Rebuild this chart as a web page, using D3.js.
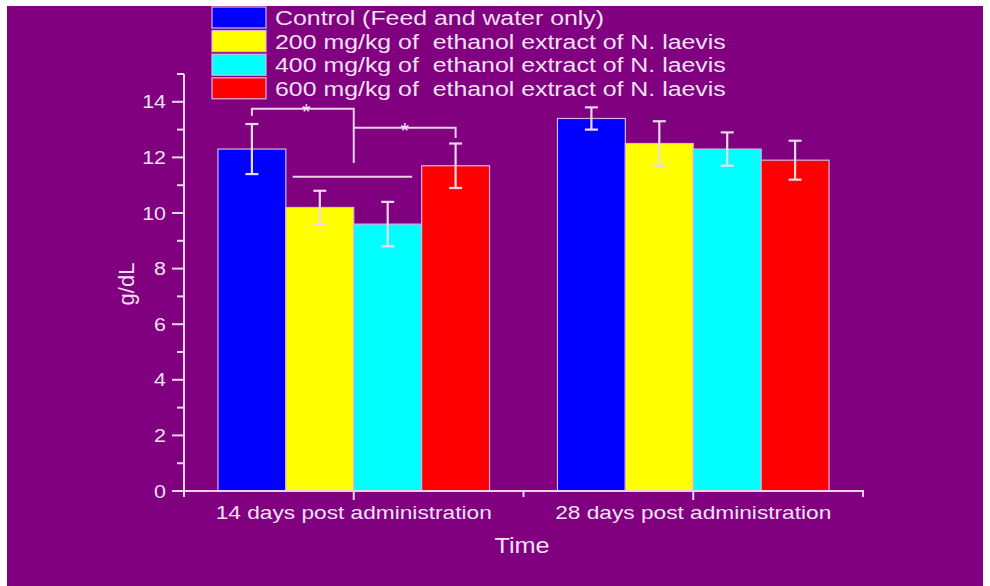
<!DOCTYPE html>
<html>
<head>
<meta charset="utf-8">
<script src="https://d3js.org/d3.v7.min.js"></script>
<style>
  body { margin: 0; background: #ffffff; }
  svg text { font-family: "Liberation Sans", Arial, sans-serif; fill: #f3e1f3; white-space: pre; }
</style>
</head>
<body>
<svg width="990" height="586"></svg>
<script>
var categories = ["14 days post administration", "28 days post administration"];
var seriesNames = [
  "Control (Feed and water only)",
  "200 mg/kg of  ethanol extract of N. laevis",
  "400 mg/kg of  ethanol extract of N. laevis",
  "600 mg/kg of  ethanol extract of N. laevis"
];
var seriesColors = ["#0000ff", "#ffff00", "#00ffff", "#ff0000"];
var controlMean = [12.3, 13.4];
var dose200Mean = [10.2, 12.5];
var dose400Mean = [9.6, 12.3];
var dose600Mean = [11.7, 11.9];
var controlErr = [0.9, 0.4];
var dose200Err = [0.6, 0.8];
var dose400Err = [0.8, 0.6];
var dose600Err = [0.8, 0.7];
var yTicks = [0, 2, 4, 6, 8, 10, 12, 14];
var yMinorTicks = [1, 3, 5, 7, 9, 11, 13, 15];

var means = [controlMean, dose200Mean, dose400Mean, dose600Mean];
var errs = [controlErr, dose200Err, dose400Err, dose600Err];

var data = [];
for (var s = 0; s < seriesNames.length; s++) {
  for (var c = 0; c < categories.length; c++) {
    data.push({cat: categories[c], series: seriesNames[s], color: seriesColors[s],
      value: means[s][c], err: errs[s][c]});
  }
}

var svg = d3.select("svg");
var lineColor = "#ecd4ec";
var sx = 1.19; // glyphs in the picture are stretched sideways

svg.append("rect")
  .attr("x", 7).attr("y", 6)
  .attr("width", 976).attr("height", 580)
  .attr("fill", "#800080");

var x0 = d3.scaleBand().domain(categories).range([184, 863]).padding(0);
var x1 = d3.scaleBand().domain(seriesNames).range([0, x0.bandwidth()])
  .paddingInner(0).paddingOuter(0.5);
var y = d3.scaleLinear().domain([0, 15]).range([491, 74]);

// bars
svg.append("g").selectAll("rect")
  .data(data)
  .enter().append("rect")
  .attr("x", function(d) { return x0(d.cat) + x1(d.series); })
  .attr("y", function(d) { return y(d.value); })
  .attr("width", x1.bandwidth())
  .attr("height", function(d) { return y(0) - y(d.value); })
  .attr("fill", function(d) { return d.color; })
  .attr("stroke", "#d9b3e3")
  .attr("stroke-width", 1.2);

// error bars
var eb = svg.append("g").attr("stroke", "#e9dbe9").attr("stroke-width", 2.2);
data.forEach(function(d) {
  var cx = x0(d.cat) + x1(d.series) + x1.bandwidth() / 2;
  eb.append("line").attr("x1", cx).attr("x2", cx)
    .attr("y1", y(d.value + d.err)).attr("y2", y(d.value - d.err));
  eb.append("line").attr("x1", cx - 6.5).attr("x2", cx + 6.5)
    .attr("y1", y(d.value + d.err)).attr("y2", y(d.value + d.err));
  eb.append("line").attr("x1", cx - 6.5).attr("x2", cx + 6.5)
    .attr("y1", y(d.value - d.err)).attr("y2", y(d.value - d.err));
});

// y axis
var yAxis = svg.append("g").attr("transform", "translate(184,0)");
yAxis.append("line").attr("x1", 0).attr("x2", 0)
  .attr("y1", y(15)).attr("y2", y(0) + 1)
  .attr("stroke", lineColor).attr("stroke-width", 2);
yAxis.selectAll(".maj").data(yTicks).enter().append("line")
  .attr("x1", -12).attr("x2", 0)
  .attr("y1", function(d) { return y(d); }).attr("y2", function(d) { return y(d); })
  .attr("stroke", lineColor).attr("stroke-width", 2);
yAxis.selectAll(".min").data(yMinorTicks).enter().append("line")
  .attr("x1", -7).attr("x2", 0)
  .attr("y1", function(d) { return y(d); }).attr("y2", function(d) { return y(d); })
  .attr("stroke", lineColor).attr("stroke-width", 2);
yAxis.selectAll("text").data(yTicks).enter().append("text")
  .attr("transform", function(d) { return "translate(-18," + (y(d) + 6.5) + ") scale(" + sx + ",1)"; })
  .attr("text-anchor", "end")
  .attr("font-size", 18)
  .text(function(d) { return d; });

// x axis
var xAxis = svg.append("g");
xAxis.append("line").attr("x1", 183).attr("x2", 864)
  .attr("y1", y(0)).attr("y2", y(0))
  .attr("stroke", lineColor).attr("stroke-width", 2);
xAxis.selectAll(".maj").data(categories).enter().append("line")
  .attr("x1", function(d) { return x0(d) + x0.bandwidth() / 2; })
  .attr("x2", function(d) { return x0(d) + x0.bandwidth() / 2; })
  .attr("y1", y(0)).attr("y2", y(0) + 9)
  .attr("stroke", lineColor).attr("stroke-width", 2);
var edges = [x0(categories[0]), x0(categories[1]), x0(categories[1]) + x0.bandwidth()];
xAxis.selectAll(".min").data(edges).enter().append("line")
  .attr("x1", function(d) { return d; }).attr("x2", function(d) { return d; })
  .attr("y1", y(0)).attr("y2", y(0) + 6)
  .attr("stroke", lineColor).attr("stroke-width", 2);
xAxis.selectAll("text").data(categories).enter().append("text")
  .attr("transform", function(d) { return "translate(" + (x0(d) + x0.bandwidth() / 2) + ",519) scale(1.26,1)"; })
  .attr("text-anchor", "middle")
  .attr("font-size", 18)
  .text(function(d) { return d; });

// axis titles
svg.append("text")
  .attr("transform", "translate(522,553) scale(1.15,1)")
  .attr("text-anchor", "middle")
  .attr("font-size", 22)
  .text("Time");
svg.append("text")
  .attr("transform", "translate(134,284) rotate(-90)")
  .attr("text-anchor", "middle")
  .attr("font-size", 22)
  .text("g/dL");

// significance brackets, positions in bar slots from the group's first bar edge
function slotX(catIdx, slot) {
  return x0(categories[catIdx]) + x1(seriesNames[0]) + slot * x1.step();
}
var bracketPaths = [
  [[0.5, 13.5], [0.5, 13.75], [2, 13.75], [2, 11.8]],
  [[2, 13.07], [3.5, 13.07], [3.5, 12.7]],
  [[1.1, 11.3], [2.86, 11.3]]
];
var starSlots = [[1.3, 13.75], [2.75, 13.07]];
var line = d3.line()
  .x(function(p) { return slotX(0, p[0]); })
  .y(function(p) { return y(p[1]); });
svg.append("g").selectAll("path")
  .data(bracketPaths)
  .enter().append("path")
  .attr("d", line)
  .attr("fill", "none")
  .attr("stroke", "#e9d3ea")
  .attr("stroke-width", 2);
svg.append("g").selectAll("text")
  .data(starSlots)
  .enter().append("text")
  .attr("x", function(p) { return slotX(0, p[0]); })
  .attr("y", function(p) { return y(p[1]) + 10; })
  .attr("text-anchor", "middle")
  .attr("font-size", 22)
  .text("*");

// legend
var legend = svg.append("g").selectAll("g")
  .data(seriesNames)
  .enter().append("g")
  .attr("transform", function(d, i) { return "translate(212," + (7 + i * 23.6) + ")"; });
legend.append("rect")
  .attr("width", 54).attr("height", 21)
  .attr("fill", function(d, i) { return seriesColors[i]; })
  .attr("stroke", "#d9b3e3").attr("stroke-width", 1.2);
legend.append("text")
  .attr("transform", "translate(63,18) scale(1.185,1)")
  .attr("font-size", 21)
  .text(function(d) { return d; });
</script>
</body>
</html>
